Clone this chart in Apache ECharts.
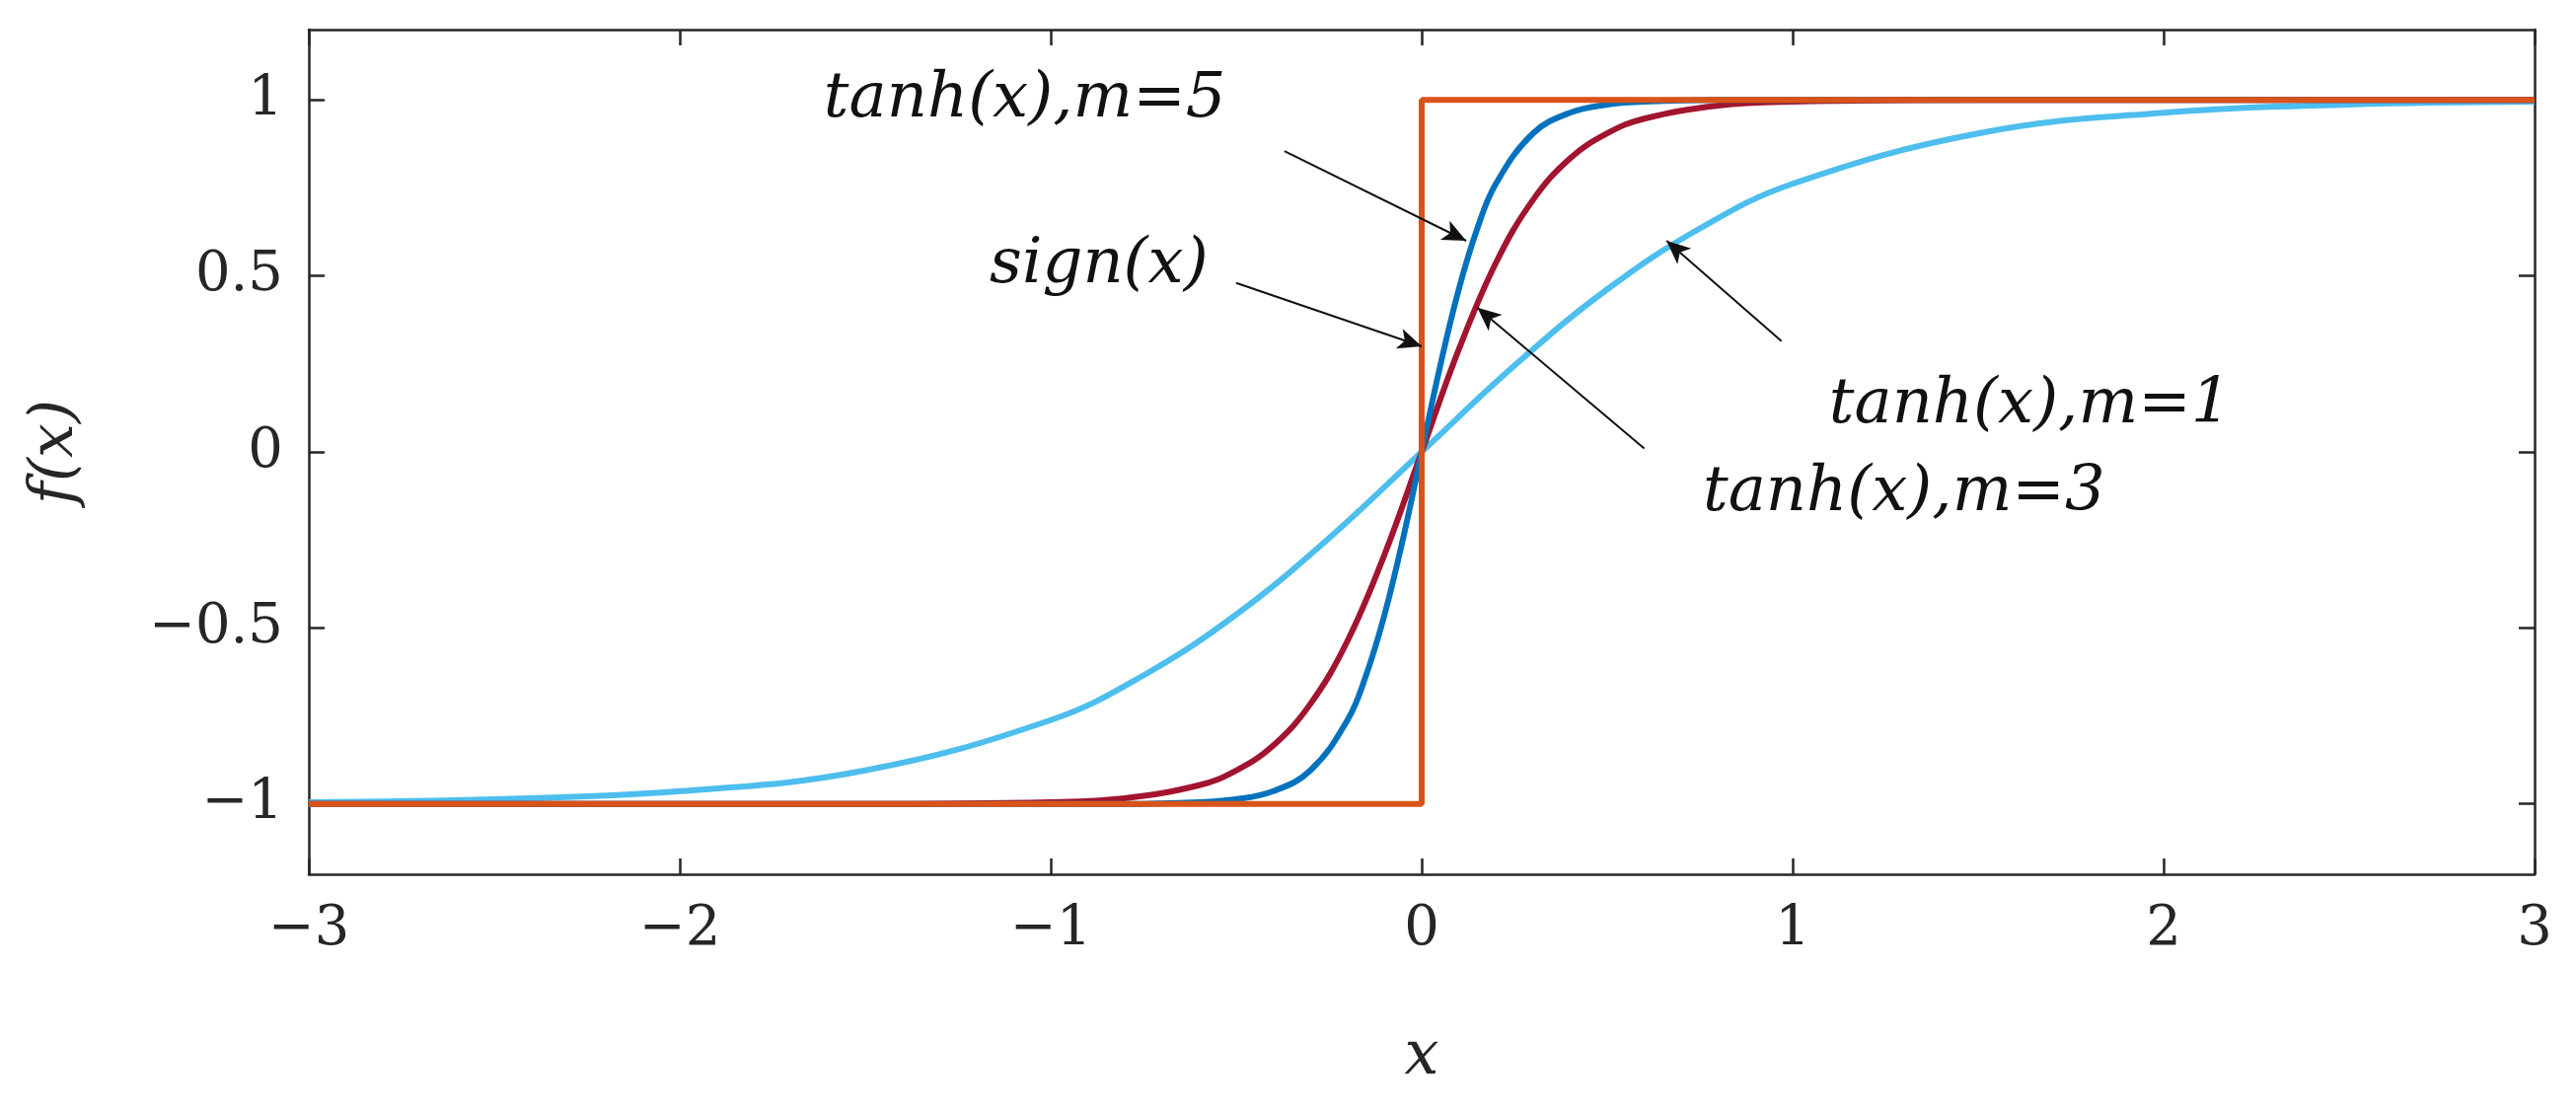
<!DOCTYPE html>
<html><head><meta charset="utf-8">
<script src="https://cdn.jsdelivr.net/npm/echarts@6/dist/echarts.min.js"></script>
<style>html,body{margin:0;background:#fff}#c{width:2611px;height:1131px}</style>
</head><body><div id="c"></div>
<script>
// values
const m1X = [-3, -2.5, -2, -1.5, -1, -0.75, -0.5, -0.25, 0, 0.25, 0.5, 0.75, 1, 1.5, 2, 2.5, 3];
const m1Y = [-0.995, -0.987, -0.964, -0.905, -0.762, -0.635, -0.462, -0.245, 0, 0.245, 0.462, 0.635, 0.762, 0.905, 0.964, 0.987, 0.995];
const m3X = [-3, -1.5, -1, -0.8, -0.6, -0.5, -0.4, -0.3, -0.2, -0.1, 0, 0.1, 0.2, 0.3, 0.4, 0.5, 0.6, 0.8, 1, 1.5, 3];
const m3Y = [-1, -1, -0.995, -0.984, -0.947, -0.905, -0.834, -0.716, -0.537, -0.291, 0, 0.291, 0.537, 0.716, 0.834, 0.905, 0.947, 0.984, 0.995, 1, 1];
const m5X = [-3, -0.8, -0.6, -0.5, -0.4, -0.3, -0.2, -0.15, -0.1, -0.05, 0, 0.05, 0.1, 0.15, 0.2, 0.3, 0.4, 0.5, 0.6, 0.8, 3];
const m5Y = [-1, -1, -0.995, -0.987, -0.964, -0.905, -0.762, -0.635, -0.462, -0.245, 0, 0.245, 0.462, 0.635, 0.762, 0.905, 0.964, 0.987, 0.995, 1, 1];
const signX = [-3, 0, 0, 3];
const signY = [-1, -1, 1, 1];
const yTicks = [-1, -0.5, 0, 0.5, 1];

const notes = [
  { text: 'tanh(x),m=5', at: [-1.07, 1.0], from: [-0.37, 0.855], to: [0.12, 0.6] },
  { text: 'sign(x)', at: [-0.87, 0.53], from: [-0.5, 0.48], to: [0.0, 0.3] },
  { text: 'tanh(x),m=1', at: [1.64, 0.13], from: [0.97, 0.315], to: [0.66, 0.6] },
  { text: 'tanh(x),m=3', at: [1.3, -0.12], from: [0.6, 0.01], to: [0.15, 0.41] }
];

const pairs = (xs, ys) => xs.map((x, i) => [x, ys[i]]);
const font = 'DejaVu Serif';
const fmt = v => (v < 0 ? '\u2212' + Math.abs(v) : String(v));
const ink = '#262626';
const tick = { inside: true, length: 16, lineStyle: { color: ink, width: 2.5 } };

const chart = echarts.init(document.getElementById('c'));
const axisCommon = {
  type: 'value',
  axisLine: { show: true, onZero: false, lineStyle: { color: ink, width: 2.5 } },
  axisTick: tick,
  splitLine: { show: false }
};
chart.setOption({
  animation: false,
  grid: { left: 313, right: 42, top: 30, bottom: 245 },
  xAxis: [
    Object.assign({}, axisCommon, {
      min: -3, max: 3, interval: 1, position: 'bottom',
      name: 'x', nameLocation: 'middle', nameGap: 155,
      nameTextStyle: { fontFamily: font, fontStyle: 'italic', fontSize: 62, color: ink },
      axisLabel: { fontFamily: font, fontSize: 56, color: ink, margin: 28, formatter: fmt }
    }),
    Object.assign({}, axisCommon, { min: -3, max: 3, interval: 1, position: 'top', axisLabel: { show: false } })
  ],
  yAxis: [
    Object.assign({}, axisCommon, {
      min: -1.2, max: 1.2, position: 'left',
      name: 'f(x)', nameLocation: 'middle', nameGap: 225, nameRotate: 90,
      nameTextStyle: { fontFamily: font, fontStyle: 'italic', fontSize: 62, color: ink },
      axisLabel: { fontFamily: font, fontSize: 56, color: ink, margin: 26, formatter: fmt, customValues: yTicks },
      axisTick: Object.assign({ customValues: yTicks }, tick)
    }),
    Object.assign({}, axisCommon, {
      min: -1.2, max: 1.2, position: 'right', axisLabel: { show: false },
      axisTick: Object.assign({ customValues: yTicks }, tick)
    })
  ],
  series: [
    { type: 'line', data: pairs(m1X, m1Y), smooth: 0.4, showSymbol: false, lineStyle: { color: '#4DBEEE', width: 6 } },
    { type: 'line', data: pairs(m3X, m3Y), smooth: 0.4, showSymbol: false, lineStyle: { color: '#A2142F', width: 6 } },
    { type: 'line', data: pairs(m5X, m5Y), smooth: 0.4, showSymbol: false, lineStyle: { color: '#0072BD', width: 6 } },
    { type: 'line', data: pairs(signX, signY), showSymbol: false, lineStyle: { color: '#D95319', width: 6 } },
    {
      type: 'line', data: [],
      markLine: {
        silent: true, symbol: ['none', 'arrow'], symbolSize: [16, 24],
        lineStyle: { color: '#111', width: 2, type: 'solid' }, label: { show: false },
        data: notes.map(n => [{ coord: n.from }, { coord: n.to }])
      },
      markPoint: {
        silent: true, symbolSize: 0,
        label: { show: true, fontFamily: font, fontStyle: 'italic', fontSize: 64, color: '#111', formatter: '{b}' },
        data: notes.map(n => ({ name: n.text, coord: n.at }))
      }
    }
  ]
});
</script></body></html>
